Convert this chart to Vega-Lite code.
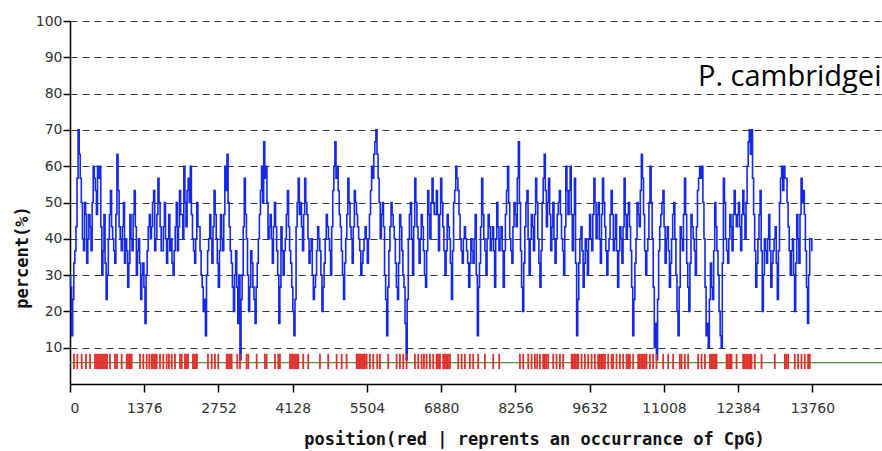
{
  "$schema": "https://vega.github.io/schema/vega-lite/v6.json",
  "width": 812,
  "height": 363,
  "autosize": {"type": "none"},
  "padding": {"left": 70, "top": 21, "right": 0, "bottom": 67},
  "background": "white",
  "config": {"view": {"stroke": null}},
  "datasets": {
    "gc": [
      {"p":0,"v":30},{"p":40,"v":13.3},{"p":80,"v":33.3},{"p":120,"v":43.3},{"p":160,"v":70},{"p":200,"v":56.7},{"p":240,"v":40},{"p":280,"v":50},{"p":320,"v":33.3},{"p":360,"v":46.7},
      {"p":400,"v":36.7},{"p":440,"v":60},{"p":480,"v":53.3},{"p":520,"v":60},{"p":560,"v":60},{"p":600,"v":30},{"p":640,"v":46.7},{"p":680,"v":23.3},{"p":720,"v":40},{"p":760,"v":53.3},
      {"p":800,"v":40},{"p":840,"v":33.3},{"p":880,"v":63.3},{"p":920,"v":43.3},{"p":960,"v":36.7},{"p":1000,"v":50},{"p":1040,"v":40},{"p":1080,"v":26.7},{"p":1120,"v":46.7},{"p":1160,"v":36.7},
      {"p":1200,"v":53.3},{"p":1240,"v":30},{"p":1280,"v":40},{"p":1320,"v":23.3},{"p":1360,"v":33.3},{"p":1400,"v":16.7},{"p":1440,"v":36.7},{"p":1480,"v":46.7},{"p":1520,"v":43.3},{"p":1560,"v":53.3},
      {"p":1600,"v":40},{"p":1640,"v":56.7},{"p":1680,"v":43.3},{"p":1720,"v":36.7},{"p":1760,"v":50},{"p":1800,"v":33.3},{"p":1840,"v":46.7},{"p":1880,"v":40},{"p":1920,"v":30},{"p":1960,"v":43.3},
      {"p":2000,"v":36.7},{"p":2040,"v":53.3},{"p":2080,"v":46.7},{"p":2120,"v":60},{"p":2160,"v":43.3},{"p":2200,"v":56.7},{"p":2240,"v":60},{"p":2280,"v":40},{"p":2320,"v":33.3},{"p":2360,"v":50},
      {"p":2400,"v":43.3},{"p":2440,"v":30},{"p":2480,"v":20},{"p":2520,"v":13.3},{"p":2560,"v":36.7},{"p":2600,"v":46.7},{"p":2640,"v":33.3},{"p":2680,"v":53.3},{"p":2720,"v":40},{"p":2760,"v":26.7},
      {"p":2800,"v":46.7},{"p":2840,"v":36.7},{"p":2880,"v":60},{"p":2920,"v":63.3},{"p":2960,"v":43.3},{"p":3000,"v":33.3},{"p":3040,"v":20},{"p":3080,"v":36.7},{"p":3120,"v":16.7},{"p":3160,"v":6.7},
      {"p":3200,"v":30},{"p":3240,"v":56.7},{"p":3280,"v":40},{"p":3320,"v":20},{"p":3360,"v":36.7},{"p":3400,"v":26.7},{"p":3440,"v":16.7},{"p":3480,"v":33.3},{"p":3520,"v":46.7},{"p":3560,"v":60},
      {"p":3600,"v":66.7},{"p":3640,"v":60},{"p":3680,"v":40},{"p":3720,"v":46.7},{"p":3760,"v":33.3},{"p":3800,"v":50},{"p":3840,"v":36.7},{"p":3880,"v":16.7},{"p":3920,"v":43.3},{"p":3960,"v":30},
      {"p":4000,"v":40},{"p":4040,"v":53.3},{"p":4080,"v":36.7},{"p":4120,"v":26.7},{"p":4160,"v":13.3},{"p":4200,"v":43.3},{"p":4240,"v":56.7},{"p":4280,"v":50},{"p":4320,"v":36.7},{"p":4360,"v":56.7},
      {"p":4400,"v":46.7},{"p":4440,"v":33.3},{"p":4480,"v":40},{"p":4520,"v":23.3},{"p":4560,"v":30},{"p":4600,"v":43.3},{"p":4640,"v":36.7},{"p":4680,"v":20},{"p":4720,"v":33.3},{"p":4760,"v":46.7},
      {"p":4800,"v":40},{"p":4840,"v":30},{"p":4880,"v":53.3},{"p":4920,"v":66.7},{"p":4960,"v":60},{"p":5000,"v":46.7},{"p":5040,"v":36.7},{"p":5080,"v":23.3},{"p":5120,"v":40},{"p":5160,"v":56.7},
      {"p":5200,"v":43.3},{"p":5240,"v":33.3},{"p":5280,"v":53.3},{"p":5320,"v":46.7},{"p":5360,"v":40},{"p":5400,"v":30},{"p":5440,"v":36.7},{"p":5480,"v":43.3},{"p":5520,"v":33.3},{"p":5560,"v":46.7},
      {"p":5600,"v":60},{"p":5640,"v":63.3},{"p":5680,"v":70},{"p":5720,"v":56.7},{"p":5760,"v":40},{"p":5800,"v":50},{"p":5840,"v":30},{"p":5880,"v":13.3},{"p":5920,"v":36.7},{"p":5960,"v":50},
      {"p":6000,"v":43.3},{"p":6040,"v":33.3},{"p":6080,"v":23.3},{"p":6120,"v":46.7},{"p":6160,"v":36.7},{"p":6200,"v":26.7},{"p":6240,"v":6.7},{"p":6280,"v":40},{"p":6320,"v":50},{"p":6360,"v":30},
      {"p":6400,"v":56.7},{"p":6440,"v":43.3},{"p":6480,"v":33.3},{"p":6520,"v":46.7},{"p":6560,"v":36.7},{"p":6600,"v":26.7},{"p":6640,"v":53.3},{"p":6680,"v":40},{"p":6720,"v":56.7},{"p":6760,"v":46.7},
      {"p":6800,"v":53.3},{"p":6840,"v":36.7},{"p":6880,"v":56.7},{"p":6920,"v":43.3},{"p":6960,"v":30},{"p":7000,"v":46.7},{"p":7040,"v":40},{"p":7080,"v":23.3},{"p":7120,"v":50},{"p":7160,"v":60},
      {"p":7200,"v":53.3},{"p":7240,"v":40},{"p":7280,"v":33.3},{"p":7320,"v":43.3},{"p":7360,"v":36.7},{"p":7400,"v":26.7},{"p":7440,"v":40},{"p":7480,"v":33.3},{"p":7520,"v":46.7},{"p":7560,"v":13.3},
      {"p":7600,"v":33.3},{"p":7640,"v":56.7},{"p":7680,"v":40},{"p":7720,"v":30},{"p":7760,"v":46.7},{"p":7800,"v":36.7},{"p":7840,"v":43.3},{"p":7880,"v":26.7},{"p":7920,"v":50},{"p":7960,"v":36.7},
      {"p":8000,"v":43.3},{"p":8040,"v":26.7},{"p":8080,"v":46.7},{"p":8120,"v":60},{"p":8160,"v":40},{"p":8200,"v":33.3},{"p":8240,"v":50},{"p":8280,"v":43.3},{"p":8320,"v":66.7},{"p":8360,"v":36.7},
      {"p":8400,"v":20},{"p":8440,"v":43.3},{"p":8480,"v":53.3},{"p":8520,"v":30},{"p":8560,"v":46.7},{"p":8600,"v":36.7},{"p":8640,"v":56.7},{"p":8680,"v":40},{"p":8720,"v":26.7},{"p":8760,"v":50},
      {"p":8800,"v":63.3},{"p":8840,"v":43.3},{"p":8880,"v":56.7},{"p":8920,"v":36.7},{"p":8960,"v":50},{"p":9000,"v":33.3},{"p":9040,"v":46.7},{"p":9080,"v":53.3},{"p":9120,"v":40},{"p":9160,"v":30},
      {"p":9200,"v":60},{"p":9240,"v":46.7},{"p":9280,"v":60},{"p":9320,"v":36.7},{"p":9360,"v":56.7},{"p":9400,"v":13.3},{"p":9440,"v":33.3},{"p":9480,"v":43.3},{"p":9520,"v":26.7},{"p":9560,"v":40},
      {"p":9600,"v":30},{"p":9640,"v":46.7},{"p":9680,"v":36.7},{"p":9720,"v":56.7},{"p":9760,"v":40},{"p":9800,"v":50},{"p":9840,"v":33.3},{"p":9880,"v":56.7},{"p":9920,"v":43.3},{"p":9960,"v":30},
      {"p":10000,"v":40},{"p":10040,"v":53.3},{"p":10080,"v":36.7},{"p":10120,"v":46.7},{"p":10160,"v":26.7},{"p":10200,"v":43.3},{"p":10240,"v":33.3},{"p":10280,"v":56.7},{"p":10320,"v":40},{"p":10360,"v":50},
      {"p":10400,"v":36.7},{"p":10440,"v":13.3},{"p":10480,"v":33.3},{"p":10520,"v":50},{"p":10560,"v":43.3},{"p":10600,"v":63.3},{"p":10640,"v":46.7},{"p":10680,"v":30},{"p":10720,"v":40},{"p":10760,"v":60},
      {"p":10800,"v":40},{"p":10840,"v":10},{"p":10880,"v":6.7},{"p":10920,"v":36.7},{"p":10960,"v":46.7},{"p":11000,"v":53.3},{"p":11040,"v":33.3},{"p":11080,"v":43.3},{"p":11120,"v":26.7},{"p":11160,"v":40},
      {"p":11200,"v":50},{"p":11240,"v":30},{"p":11280,"v":13.3},{"p":11320,"v":43.3},{"p":11360,"v":36.7},{"p":11400,"v":56.7},{"p":11440,"v":33.3},{"p":11480,"v":20},{"p":11520,"v":46.7},{"p":11560,"v":40},
      {"p":11600,"v":30},{"p":11640,"v":53.3},{"p":11680,"v":60},{"p":11720,"v":60},{"p":11760,"v":40},{"p":11800,"v":13.3},{"p":11840,"v":10},{"p":11880,"v":33.3},{"p":11920,"v":23.3},{"p":11960,"v":50},
      {"p":12000,"v":36.7},{"p":12040,"v":20},{"p":12080,"v":10},{"p":12120,"v":56.7},{"p":12160,"v":40},{"p":12200,"v":33.3},{"p":12240,"v":46.7},{"p":12280,"v":36.7},{"p":12320,"v":53.3},{"p":12360,"v":43.3},
      {"p":12400,"v":50},{"p":12440,"v":36.7},{"p":12480,"v":53.3},{"p":12520,"v":40},{"p":12560,"v":60},{"p":12600,"v":70},{"p":12640,"v":70},{"p":12680,"v":46.7},{"p":12720,"v":26.7},{"p":12760,"v":40},
      {"p":12800,"v":53.3},{"p":12840,"v":20},{"p":12880,"v":40},{"p":12920,"v":33.3},{"p":12960,"v":46.7},{"p":13000,"v":26.7},{"p":13040,"v":36.7},{"p":13080,"v":43.3},{"p":13120,"v":23.3},{"p":13160,"v":50},
      {"p":13200,"v":60},{"p":13240,"v":60},{"p":13280,"v":56.7},{"p":13320,"v":43.3},{"p":13360,"v":30},{"p":13400,"v":40},{"p":13440,"v":20},{"p":13480,"v":46.7},{"p":13520,"v":33.3},{"p":13560,"v":56.7},
      {"p":13600,"v":53.3},{"p":13640,"v":36.7},{"p":13680,"v":16.7},{"p":13720,"v":40},{"p":13760,"v":36.7},
      {"p":20,"v":26.7},{"p":60,"v":23.3},{"p":100,"v":36.7},{"p":140,"v":56.7},{"p":180,"v":63.3},{"p":220,"v":50},{"p":260,"v":36.7},{"p":300,"v":46.7},{"p":340,"v":40},{"p":380,"v":43.3},
      {"p":420,"v":50},{"p":460,"v":56.7},{"p":500,"v":46.7},{"p":540,"v":56.7},{"p":580,"v":43.3},{"p":620,"v":36.7},{"p":660,"v":33.3},{"p":700,"v":30},{"p":740,"v":46.7},{"p":780,"v":43.3},
      {"p":820,"v":36.7},{"p":860,"v":46.7},{"p":900,"v":53.3},{"p":940,"v":40},{"p":980,"v":43.3},{"p":1020,"v":33.3},{"p":1060,"v":36.7},{"p":1100,"v":33.3},{"p":1140,"v":40},{"p":1180,"v":46.7},
      {"p":1220,"v":43.3},{"p":1260,"v":36.7},{"p":1300,"v":33.3},{"p":1340,"v":30},{"p":1380,"v":26.7},{"p":1420,"v":30},{"p":1460,"v":43.3},{"p":1500,"v":40},{"p":1540,"v":50},{"p":1580,"v":36.7},
      {"p":1620,"v":46.7},{"p":1660,"v":50},{"p":1700,"v":36.7},{"p":1740,"v":43.3},{"p":1780,"v":40},{"p":1820,"v":40},{"p":1860,"v":36.7},{"p":1900,"v":33.3},{"p":1940,"v":36.7},{"p":1980,"v":50},
      {"p":2020,"v":43.3},{"p":2060,"v":46.7},{"p":2100,"v":40},{"p":2140,"v":50},{"p":2180,"v":53.3},{"p":2220,"v":50},{"p":2260,"v":46.7},{"p":2300,"v":36.7},{"p":2340,"v":40},{"p":2380,"v":43.3},
      {"p":2420,"v":36.7},{"p":2460,"v":26.7},{"p":2500,"v":23.3},{"p":2540,"v":30},{"p":2580,"v":40},{"p":2620,"v":40},{"p":2660,"v":43.3},{"p":2700,"v":46.7},{"p":2740,"v":33.3},{"p":2780,"v":36.7},
      {"p":2820,"v":40},{"p":2860,"v":46.7},{"p":2900,"v":53.3},{"p":2940,"v":50},{"p":2980,"v":36.7},{"p":3020,"v":26.7},{"p":3060,"v":30},{"p":3100,"v":26.7},{"p":3140,"v":30},{"p":3180,"v":23.3},
      {"p":3220,"v":43.3},{"p":3260,"v":46.7},{"p":3300,"v":30},{"p":3340,"v":26.7},{"p":3380,"v":33.3},{"p":3420,"v":23.3},{"p":3460,"v":26.7},{"p":3500,"v":40},{"p":3540,"v":53.3},{"p":3580,"v":50},
      {"p":3620,"v":56.7},{"p":3660,"v":50},{"p":3700,"v":43.3},{"p":3740,"v":40},{"p":3780,"v":43.3},{"p":3820,"v":43.3},{"p":3860,"v":30},{"p":3900,"v":26.7},{"p":3940,"v":36.7},{"p":3980,"v":36.7},
      {"p":4020,"v":46.7},{"p":4060,"v":43.3},{"p":4100,"v":33.3},{"p":4140,"v":20},{"p":4180,"v":23.3},{"p":4220,"v":50},{"p":4260,"v":46.7},{"p":4300,"v":43.3},{"p":4340,"v":46.7},{"p":4380,"v":50},
      {"p":4420,"v":40},{"p":4460,"v":36.7},{"p":4500,"v":30},{"p":4540,"v":26.7},{"p":4580,"v":36.7},{"p":4620,"v":40},{"p":4660,"v":30},{"p":4700,"v":26.7},{"p":4740,"v":40},{"p":4780,"v":43.3},
      {"p":4820,"v":36.7},{"p":4860,"v":43.3},{"p":4900,"v":60},{"p":4940,"v":56.7},{"p":4980,"v":53.3},{"p":5020,"v":43.3},{"p":5060,"v":30},{"p":5100,"v":33.3},{"p":5140,"v":46.7},{"p":5180,"v":50},
      {"p":5220,"v":40},{"p":5260,"v":43.3},{"p":5300,"v":50},{"p":5340,"v":43.3},{"p":5380,"v":36.7},{"p":5420,"v":33.3},{"p":5460,"v":40},{"p":5500,"v":40},{"p":5540,"v":40},{"p":5580,"v":53.3},
      {"p":5620,"v":56.7},{"p":5660,"v":66.7},{"p":5700,"v":63.3},{"p":5740,"v":50},{"p":5780,"v":46.7},{"p":5820,"v":43.3},{"p":5860,"v":23.3},{"p":5900,"v":26.7},{"p":5940,"v":43.3},{"p":5980,"v":46.7},
      {"p":6020,"v":40},{"p":6060,"v":26.7},{"p":6100,"v":33.3},{"p":6140,"v":43.3},{"p":6180,"v":30},{"p":6220,"v":16.7},{"p":6260,"v":23.3},{"p":6300,"v":46.7},{"p":6340,"v":40},{"p":6380,"v":43.3},
      {"p":6420,"v":50},{"p":6460,"v":40},{"p":6500,"v":40},{"p":6540,"v":43.3},{"p":6580,"v":30},{"p":6620,"v":36.7},{"p":6660,"v":46.7},{"p":6700,"v":50},{"p":6740,"v":50},{"p":6780,"v":46.7},
      {"p":6820,"v":46.7},{"p":6860,"v":46.7},{"p":6900,"v":50},{"p":6940,"v":36.7},{"p":6980,"v":36.7},{"p":7020,"v":43.3},{"p":7060,"v":33.3},{"p":7100,"v":36.7},{"p":7140,"v":53.3},{"p":7180,"v":56.7},
      {"p":7220,"v":46.7},{"p":7260,"v":36.7},{"p":7300,"v":40},{"p":7340,"v":40},{"p":7380,"v":33.3},{"p":7420,"v":33.3},{"p":7460,"v":36.7},{"p":7500,"v":40},{"p":7540,"v":30},{"p":7580,"v":26.7},
      {"p":7620,"v":43.3},{"p":7660,"v":46.7},{"p":7700,"v":36.7},{"p":7740,"v":40},{"p":7780,"v":43.3},{"p":7820,"v":40},{"p":7860,"v":36.7},{"p":7900,"v":40},{"p":7940,"v":43.3},{"p":7980,"v":40},
      {"p":8020,"v":36.7},{"p":8060,"v":36.7},{"p":8100,"v":53.3},{"p":8140,"v":50},{"p":8180,"v":36.7},{"p":8220,"v":43.3},{"p":8260,"v":46.7},{"p":8300,"v":56.7},{"p":8340,"v":50},{"p":8380,"v":26.7},
      {"p":8420,"v":33.3},{"p":8460,"v":50},{"p":8500,"v":40},{"p":8540,"v":40},{"p":8580,"v":43.3},{"p":8620,"v":46.7},{"p":8660,"v":50},{"p":8700,"v":33.3},{"p":8740,"v":36.7},{"p":8780,"v":56.7},
      {"p":8820,"v":53.3},{"p":8860,"v":50},{"p":8900,"v":46.7},{"p":8940,"v":43.3},{"p":8980,"v":40},{"p":9020,"v":40},{"p":9060,"v":50},{"p":9100,"v":46.7},{"p":9140,"v":36.7},{"p":9180,"v":43.3},
      {"p":9220,"v":53.3},{"p":9260,"v":53.3},{"p":9300,"v":46.7},{"p":9340,"v":46.7},{"p":9380,"v":33.3},{"p":9420,"v":23.3},{"p":9460,"v":40},{"p":9500,"v":36.7},{"p":9540,"v":33.3},{"p":9580,"v":36.7},
      {"p":9620,"v":40},{"p":9660,"v":40},{"p":9700,"v":46.7},{"p":9740,"v":50},{"p":9780,"v":46.7},{"p":9820,"v":40},{"p":9860,"v":46.7},{"p":9900,"v":50},{"p":9940,"v":36.7},{"p":9980,"v":36.7},
      {"p":10020,"v":46.7},{"p":10060,"v":46.7},{"p":10100,"v":40},{"p":10140,"v":36.7},{"p":10180,"v":36.7},{"p":10220,"v":40},{"p":10260,"v":43.3},{"p":10300,"v":46.7},{"p":10340,"v":46.7},{"p":10380,"v":43.3},
      {"p":10420,"v":26.7},{"p":10460,"v":23.3},{"p":10500,"v":40},{"p":10540,"v":46.7},{"p":10580,"v":53.3},{"p":10620,"v":56.7},{"p":10660,"v":36.7},{"p":10700,"v":36.7},{"p":10740,"v":50},{"p":10780,"v":50},
      {"p":10820,"v":26.7},{"p":10860,"v":16.7},{"p":10900,"v":23.3},{"p":10940,"v":43.3},{"p":10980,"v":50},{"p":11020,"v":43.3},{"p":11060,"v":40},{"p":11100,"v":36.7},{"p":11140,"v":33.3},{"p":11180,"v":46.7},
      {"p":11220,"v":40},{"p":11260,"v":20},{"p":11300,"v":26.7},{"p":11340,"v":40},{"p":11380,"v":46.7},{"p":11420,"v":46.7},{"p":11460,"v":26.7},{"p":11500,"v":33.3},{"p":11540,"v":43.3},{"p":11580,"v":36.7},
      {"p":11620,"v":43.3},{"p":11660,"v":56.7},{"p":11700,"v":56.7},{"p":11740,"v":50},{"p":11780,"v":26.7},{"p":11820,"v":16.7},{"p":11860,"v":23.3},{"p":11900,"v":26.7},{"p":11940,"v":36.7},{"p":11980,"v":43.3},
      {"p":12020,"v":30},{"p":12060,"v":13.3},{"p":12100,"v":33.3},{"p":12140,"v":50},{"p":12180,"v":36.7},{"p":12220,"v":40},{"p":12260,"v":43.3},{"p":12300,"v":46.7},{"p":12340,"v":46.7},{"p":12380,"v":46.7},
      {"p":12420,"v":43.3},{"p":12460,"v":46.7},{"p":12500,"v":46.7},{"p":12540,"v":50},{"p":12580,"v":66.7},{"p":12620,"v":63.3},{"p":12660,"v":56.7},{"p":12700,"v":36.7},{"p":12740,"v":33.3},{"p":12780,"v":46.7},
      {"p":12820,"v":36.7},{"p":12860,"v":30},{"p":12900,"v":36.7},{"p":12940,"v":40},{"p":12980,"v":36.7},{"p":13020,"v":33.3},{"p":13060,"v":40},{"p":13100,"v":33.3},{"p":13140,"v":36.7},{"p":13180,"v":56.7},
      {"p":13220,"v":53.3},{"p":13260,"v":56.7},{"p":13300,"v":50},{"p":13340,"v":36.7},{"p":13380,"v":36.7},{"p":13420,"v":30},{"p":13460,"v":33.3},{"p":13500,"v":40},{"p":13540,"v":46.7},{"p":13580,"v":50},
      {"p":13620,"v":46.7},{"p":13660,"v":26.7},{"p":13700,"v":30},{"p":13740,"v":40}
    ],
    "cpg": [
      {"p":74},{"p":135},{"p":217},{"p":296},{"p":371},{"p":463},{"p":491},{"p":519},{"p":547},{"p":574},{"p":602},{"p":630},{"p":658},{"p":686},{"p":741},{"p":834},{"p":871},{"p":958},{"p":1051},{"p":1075},{"p":1103},{"p":1130},{"p":1143},{"p":1297},{"p":1358},{"p":1421},{"p":1469},{"p":1514},{"p":1538},{"p":1566},{"p":1594},{"p":1607},{"p":1668},{"p":1729},{"p":1792},{"p":1834},{"p":1885},{"p":1946},{"p":2038},{"p":2070},{"p":2131},{"p":2159},{"p":2187},{"p":2279},{"p":2307},{"p":2335},{"p":2353},{"p":2557},{"p":2626},{"p":2687},{"p":2748},{"p":2904},{"p":2928},{"p":2956},{"p":2983},{"p":2996},{"p":3100},{"p":3150},{"p":3274},{"p":3304},{"p":3460},{"p":3613},{"p":3645},{"p":3799},{"p":3860},{"p":3891},{"p":4077},{"p":4104},{"p":4132},{"p":4160},{"p":4188},{"p":4216},{"p":4230},
      {"p":4323},{"p":4416},{"p":4633},{"p":4786},{"p":4942},{"p":5035},{"p":5127},{"p":5313},{"p":5337},{"p":5364},{"p":5392},{"p":5420},{"p":5448},{"p":5466},{"p":5498},{"p":5559},{"p":5620},{"p":5694},{"p":5744},{"p":5898},{"p":6054},{"p":6115},{"p":6176},{"p":6239},{"p":6393},{"p":6454},{"p":6517},{"p":6560},{"p":6610},{"p":6671},{"p":6732},{"p":6795},{"p":6819},{"p":6847},{"p":6856},{"p":6917},{"p":6949},{"p":6976},{"p":7004},{"p":7032},{"p":7041},{"p":7195},{"p":7258},{"p":7319},{"p":7412},{"p":7473},{"p":7566},{"p":7690},{"p":7844},{"p":7955},{"p":8339},{"p":8400},{"p":8493},{"p":8555},{"p":8617},{"p":8659},{"p":8709},{"p":8770},{"p":8802},{"p":8829},{"p":8863},{"p":8956},{"p":9018},{"p":9080},{"p":9141},{"p":9297},{"p":9321},{"p":9349},{"p":9376},{"p":9404},{"p":9419},
      {"p":9482},{"p":9543},{"p":9604},{"p":9667},{"p":9728},{"p":9789},{"p":9821},{"p":9849},{"p":9876},{"p":9904},{"p":9914},{"p":9975},{"p":10038},{"p":10067},{"p":10130},{"p":10192},{"p":10253},{"p":10316},{"p":10345},{"p":10377},{"p":10438},{"p":10531},{"p":10562},{"p":10590},{"p":10618},{"p":10646},{"p":10655},{"p":10686},{"p":10747},{"p":10808},{"p":10871},{"p":10994},{"p":11087},{"p":11179},{"p":11303},{"p":11335},{"p":11396},{"p":11457},{"p":11642},{"p":11705},{"p":11767},{"p":11859},{"p":11887},{"p":11915},{"p":11943},{"p":11970},{"p":11983},{"p":12169},{"p":12193},{"p":12221},{"p":12249},{"p":12262},{"p":12354},{"p":12476},{"p":12507},{"p":12535},{"p":12563},{"p":12591},{"p":12619},{"p":12632},{"p":12693},{"p":12817},{"p":13063},{"p":13249},{"p":13277},{"p":13310},{"p":13434},{"p":13495},{"p":13558},{"p":13619},{"p":13680},{"p":13712}
    ]
  },
  "layer": [
    {
      "data": {"name": "gc"},
      "mark": {"type": "line", "interpolate": "step", "color": "#1428e6", "strokeWidth": 1.6},
      "encoding": {
        "x": {
          "field": "p", "type": "quantitative",
          "scale": {"domain": [0, 15050], "nice": false, "zero": false},
          "axis": {
            "values": [0, 1376, 2752, 4128, 5504, 6880, 8256, 9632, 11008, 12384, 13760],
            "format": "d",
            "grid": false,
            "domainColor": "#000", "domainWidth": 1.5,
            "tickColor": "#000", "tickWidth": 1.5, "tickSize": 8,
            "labelFont": "DejaVu Sans", "labelFontSize": 14, "labelColor": "#333", "labelPadding": 9,
            "title": "position(red | reprents an occurrance of CpG)",
            "titleFont": "DejaVu Sans Mono", "titleFontSize": 17, "titleFontWeight": "bold", "titleColor": "#111",
            "titleX": 464, "titleY": 60, "titleBaseline": "alphabetic", "titleAlign": "center"
          }
        },
        "y": {
          "field": "v", "type": "quantitative",
          "scale": {"domain": [0, 100], "nice": false},
          "axis": {
            "values": [10, 20, 30, 40, 50, 60, 70, 80, 90, 100],
            "grid": true, "gridDash": [7, 5], "gridColor": "#333", "gridWidth": 1, "gridOpacity": 1,
            "domainColor": "#000", "domainWidth": 1.5,
            "tickColor": "#000", "tickWidth": 1.5, "tickSize": 7,
            "labelFont": "DejaVu Sans", "labelFontSize": 14, "labelColor": "#333", "labelPadding": 1,
            "title": "percent(%)",
            "titleFont": "DejaVu Sans Mono", "titleFontSize": 17, "titleFontWeight": "bold", "titleColor": "#111",
            "titleAngle": 270, "titleX": -48, "titleY": 236, "titleBaseline": "middle", "titleAlign": "center"
          }
        }
      }
    },
    {
      "data": {"values": [{}]},
      "mark": {"type": "rule", "color": "#3f9a3a", "strokeWidth": 1.3},
      "encoding": {"y": {"datum": 5.9, "type": "quantitative"}}
    },
    {
      "data": {"name": "cpg"},
      "mark": {"type": "rule", "color": "#e0302a", "strokeWidth": 1.8},
      "encoding": {
        "x": {"field": "p", "type": "quantitative"},
        "y": {"datum": 4.1, "type": "quantitative"},
        "y2": {"datum": 8.3}
      }
    },
    {
      "data": {"values": [{}]},
      "mark": {"type": "text", "align": "right", "baseline": "alphabetic", "font": "Open Sans", "fontSize": 29, "color": "#000"},
      "encoding": {
        "x": {"datum": 15040, "type": "quantitative"},
        "y": {"datum": 82.0, "type": "quantitative"},
        "text": {"value": "P. cambridgei"}
      }
    }
  ]
}
